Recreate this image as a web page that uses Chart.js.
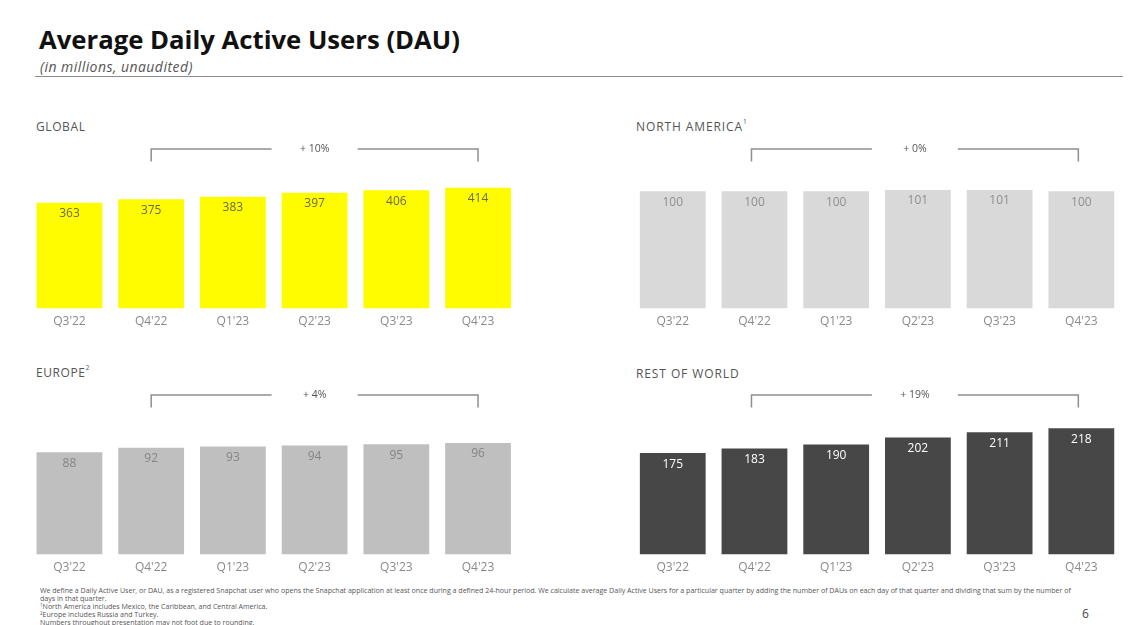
<!DOCTYPE html>
<html><head><meta charset="utf-8">
<script src="https://cdn.jsdelivr.net/npm/chart.js@4.4.0/dist/chart.umd.min.js"></script>
<style>
html,body{margin:0;padding:0;background:#fff;}
body{width:1131px;height:625px;position:relative;overflow:hidden;font-family:"Open Sans",Lato,sans-serif;}
.abs{position:absolute;white-space:nowrap;}
#title{left:39px;top:22px;font-size:25.7px;font-weight:700;color:#111;letter-spacing:0px;}
#sub{left:40px;top:57px;font-size:14px;font-style:italic;color:#555;letter-spacing:0.45px;}
#rule{left:35px;top:76px;width:1088px;height:0;border-top:1.5px solid #8c8c8c;}
.ptitle{font-size:12px;color:#555;letter-spacing:0.6px;}
.ptitle.w{letter-spacing:0.9px;}
.ptitle sup{font-size:6.5px;vertical-align:top;position:relative;top:-1px;letter-spacing:0;}
.cv{position:absolute;}
#foot{left:40px;top:587px;font-size:7.05px;line-height:7.8px;color:#555;}
#foot .l{display:block;height:7.9px;}
#foot sup{font-size:4.5px;vertical-align:top;line-height:4px;}
#page{left:1082px;top:605px;font-size:12px;color:#444;}
</style></head>
<body>
<div id="title" class="abs">Average Daily Active Users (DAU)</div>
<div id="sub" class="abs">(in millions, unaudited)</div>
<div id="rule" class="abs"></div>

<div class="abs ptitle" style="left:36px;top:118px;">GLOBAL</div>
<div class="abs ptitle w" style="left:636px;top:118px;">NORTH AMERICA<sup>1</sup></div>
<div class="abs ptitle" style="left:36px;top:364px;">EUROPE<sup>2</sup></div>
<div class="abs ptitle w" style="left:636px;top:365px;">REST OF WORLD</div>

<div class="cv" style="left:20px;top:135px;width:510px;height:200px;"><canvas id="c1"></canvas></div>
<div class="cv" style="left:620px;top:135px;width:510px;height:200px;"><canvas id="c2"></canvas></div>
<div class="cv" style="left:20px;top:381px;width:510px;height:200px;"><canvas id="c3"></canvas></div>
<div class="cv" style="left:620px;top:381px;width:510px;height:200px;"><canvas id="c4"></canvas></div>

<div id="foot" class="abs"><span class="l">We define a Daily Active User, or DAU, as a registered Snapchat user who opens the Snapchat application at least once during a defined 24-hour period. We calculate average Daily Active Users for a particular quarter by adding the number of DAUs on each day of that quarter and dividing that sum by the number of</span><span class="l">days in that quarter.</span><span class="l"><sup>1</sup>North America includes Mexico, the Caribbean, and Central America.</span><span class="l"><sup>2</sup>Europe includes Russia and Turkey.</span><span class="l">Numbers throughout presentation may not foot due to rounding.</span></div>
<div id="page" class="abs">6</div>

<script>
const quarters = ["Q3'22","Q4'22","Q1'23","Q2'23","Q3'23","Q4'23"];
const globalDAU = [363, 375, 383, 397, 406, 414];
const northAmericaDAU = [100, 100, 100, 101, 101, 100];
const europeDAU = [88, 92, 93, 94, 95, 96];
const restOfWorldDAU = [175, 183, 190, 202, 211, 218];
const growthLabels = ["+ 10%", "+ 0%", "+ 4%", "+ 19%"];

const FONT = '"Open Sans", Lato, sans-serif';

const valueLabels = {
  id: 'valueLabels',
  afterDatasetsDraw(chart, args, opts) {
    const ctx = chart.ctx;
    const meta = chart.getDatasetMeta(0);
    ctx.save();
    ctx.font = (opts.weight || '400') + ' 12px ' + FONT;
    ctx.fillStyle = opts.color;
    ctx.textAlign = 'center';
    ctx.textBaseline = 'middle';
    meta.data.forEach((bar, i) => {
      ctx.fillText(String(chart.data.datasets[0].data[i]), bar.x, bar.y + 11);
    });
    ctx.restore();
  }
};

const bracket = {
  id: 'bracket',
  afterDraw(chart, args, opts) {
    const ctx = chart.ctx;
    const xs = chart.scales.x;
    const x1 = xs.getPixelForValue(1) + (opts.dx || 0);
    const x2 = xs.getPixelForValue(5) + (opts.dx || 0);
    const y = opts.y, drop = 12.5;
    const mid = (x1 + x2) / 2;
    const gap = 43;
    ctx.save();
    ctx.strokeStyle = '#8e8e8e';
    ctx.lineWidth = 1.5;
    ctx.beginPath();
    ctx.moveTo(x1, y + drop); ctx.lineTo(x1, y); ctx.lineTo(mid - gap, y);
    ctx.moveTo(mid + gap, y); ctx.lineTo(x2, y); ctx.lineTo(x2, y + drop);
    ctx.stroke();
    ctx.font = '400 10.5px ' + FONT;
    ctx.fillStyle = '#555';
    ctx.textAlign = 'center';
    ctx.textBaseline = 'middle';
    ctx.fillText(opts.text, mid, y);
    ctx.restore();
  }
};

function makeChart(id, values, color, labelColor, labelWeight, yMax, pad, growth, bracketY, dx) {
  return new Chart(document.getElementById(id), {
    type: 'bar',
    data: {
      labels: quarters,
      datasets: [{ data: values, backgroundColor: color, borderWidth: 0,
        categoryPercentage: 1.0, barPercentage: 0.805 }]
    },
    options: {
      responsive: true, maintainAspectRatio: false, animation: false,
      layout: { padding: pad },
      plugins: {
        legend: { display: false }, tooltip: { enabled: false },
        valueLabels: { color: labelColor, weight: labelWeight },
        bracket: { text: growth, y: bracketY, dx: dx }
      },
      scales: {
        x: { grid: { display: false, drawTicks: false }, border: { display: false },
             ticks: { color: '#8a8a8a', font: { family: FONT, size: 12 }, padding: 5.5 } },
        y: { display: false, min: 0, max: yMax }
      }
    },
    plugins: [valueLabels, bracket]
  });
}

makeChart('c1', globalDAU, '#FFFC00', '#6a6a50', '400', 475,
  { left: 8.6, right: 11.1, top: 35, bottom: 1 }, growthLabels[0], 14, 0);
makeChart('c2', northAmericaDAU, '#D9D9D9', '#8f8f8f', '400', 118,
  { left: 11.9, right: 7.8, top: 35, bottom: 1 }, growthLabels[1], 14, -3);
makeChart('c3', europeDAU, '#BFBFBF', '#858585', '400', 119.3,
  { left: 8.6, right: 11.1, top: 35, bottom: 1 }, growthLabels[2], 14, 0);
makeChart('c4', restOfWorldDAU, '#474747', '#ffffff', '500', 239,
  { left: 11.9, right: 7.8, top: 35, bottom: 1 }, growthLabels[3], 14, -3);
</script>
</body></html>
